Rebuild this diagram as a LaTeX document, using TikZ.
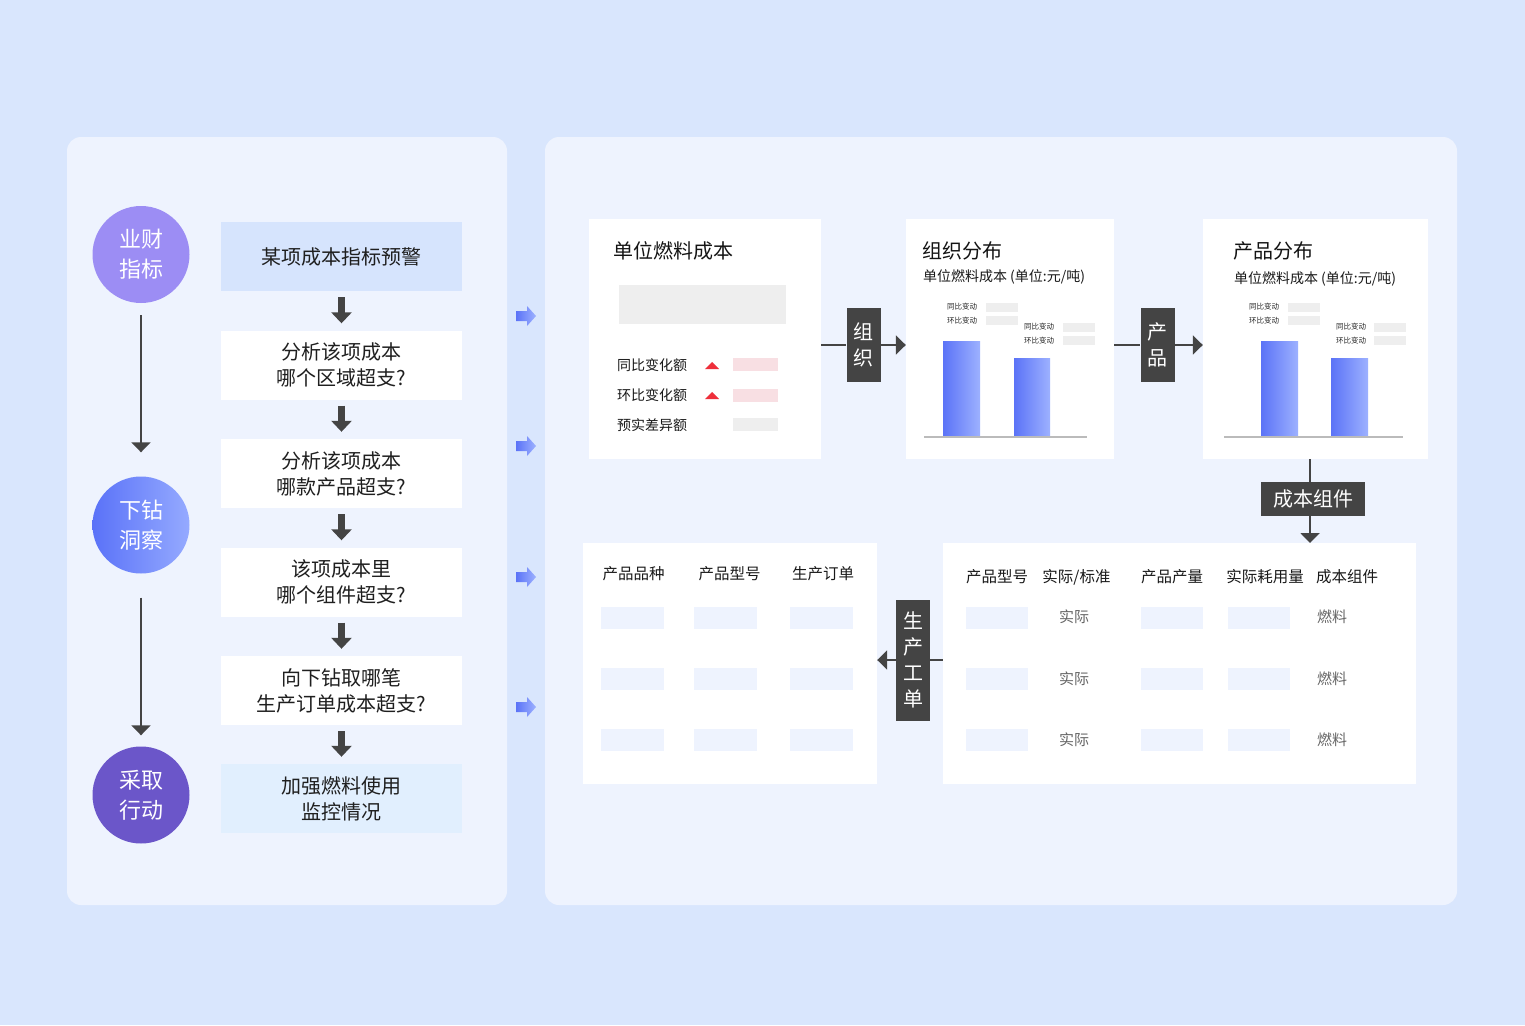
\documentclass[tikz,border=0pt]{standalone}
\usepackage{fontspec}
\setmainfont{Noto Sans CJK SC}
\usepackage{tikz}
\usetikzlibrary{arrows.meta}
\definecolor{bgblue}{HTML}{D9E6FD}
\definecolor{panelblue}{HTML}{EEF3FE}
\definecolor{warnfill}{HTML}{D6E4FD}
\definecolor{actfill}{HTML}{E1EFFE}
\definecolor{metricpurple}{HTML}{9C8DF4}
\definecolor{actpurple}{HTML}{6B56C9}
\definecolor{drilll}{HTML}{5A72F8}
\definecolor{drillr}{HTML}{95AAFF}
\definecolor{barl}{HTML}{5B73F7}
\definecolor{barr}{HTML}{9DB1FF}
\definecolor{darkgray}{HTML}{444444}
\definecolor{blankgray}{HTML}{EEEEEE}
\definecolor{pinkbar}{HTML}{F8DFE3}
\definecolor{upred}{HTML}{EE2F3B}
\definecolor{axisgray}{HTML}{BBBBBB}
\definecolor{rowgray}{HTML}{666666}
\tikzset{phase/.style={circle, minimum size=97pt, inner sep=0pt, align=center, text=white, font=\fontsize{22}{30}\selectfont},
  stepbox/.style={rectangle, fill=white, minimum width=241pt, minimum height=69pt, inner sep=0pt, align=center, text=black!88, font=\fontsize{20}{26}\selectfont},
  card/.style={rectangle, fill=white, minimum height=240pt, inner sep=0pt},
  cardtitle/.style={anchor=west, inner sep=0pt, text=black!92, font=\fontsize{20}{24}\selectfont},
  subtitle/.style={anchor=west, inner sep=0pt, text=black!90, font=\fontsize{14}{16}\selectfont},
  rowlabel/.style={anchor=west, inner sep=0pt, text=black!90, font=\fontsize{14}{15}\selectfont},
  minilabel/.style={anchor=west, inner sep=0pt, text=black!85, font=\fontsize{7.5}{8}\selectfont},
  colhead/.style={inner sep=0pt, text=black!90, font=\fontsize{15.5}{17}\selectfont},
  rowtext/.style={inner sep=0pt, text=rowgray, font=\fontsize{15}{17}\selectfont},
  tag/.style={rectangle, fill=darkgray, inner sep=0pt, align=center, text=white, font=\fontsize{20}{26}\selectfont},
  link/.style={draw=darkgray, line width=2pt},
  stagearrow/.style={draw=darkgray, line width=2pt, -{Triangle[width=19pt,length=10pt]}},
  bigarrow/.style={draw=darkgray, line width=7pt, shorten <=6pt, shorten >=7pt, -{Triangle[width=20pt,length=11pt]}}}

\begin{document}
\begin{tikzpicture}[x=1pt, y=-1pt]
  % backdrop and the two panels
  \fill [bgblue] (0,0) rectangle (1525,1025);
  \useasboundingbox (0,0) rectangle (1525,1025);
  \fill [panelblue, rounded corners=14pt] (67,137) rectangle (507,905);
  \fill [panelblue, rounded corners=14pt] (545,137) rectangle (1457,905);

  % stages on the left
  \node [phase, fill=metricpurple] (metric) at (141,254.5) {业财\\指标};
  \node [phase, left color=drilll, right color=drillr] (drill) at (141,525) {下钻\\洞察};
  \node [phase, fill=actpurple] (action) at (141,795) {采取\\行动};
  \draw [stagearrow, shorten <=12pt, shorten >=24pt] (metric) -- (drill);
  \draw [stagearrow, shorten <=24pt, shorten >=11pt] (drill) -- (action);

  % question chain
  \node [stepbox, fill=warnfill] (warn) at (341.5,256.5) {某项成本指标预警};
  \node [stepbox] (area) at (341.5,365) {分析该项成本\\哪个区域超支?};
  \node [stepbox] (prod) at (341.5,473.5) {分析该项成本\\哪款产品超支?};
  \node [stepbox] (part) at (341.5,582) {该项成本里\\哪个组件超支?};
  \node [stepbox] (order) at (341.5,690.5) {向下钻取哪笔\\生产订单成本超支?};
  \node [stepbox, fill=actfill] (act) at (341.5,798.5) {加强燃料使用\\监控情况};
  \foreach \a/\b in {warn/area, area/prod, prod/part, part/order, order/act}
    \draw [bigarrow] (\a) -- (\b);

  % blue pointers between the panels
  \foreach \y in {316,446,577,707}
    \shade [left color=barl, right color=barr] (516,{\y-5}) -- (527,{\y-5}) -- (527,{\y-10}) -- (536,\y)
      -- (527,{\y+10}) -- (527,{\y+5}) -- (516,{\y+5}) -- cycle;

  % cards
  \node [card, minimum width=232pt] (unitcost) at (705,339) {};
  \node [card, minimum width=208pt] (orgdist) at (1010,339) {};
  \node [card, minimum width=225pt] (proddist) at (1315.5,339) {};
  \node [card, minimum width=294pt, minimum height=241pt] (orders) at (730,663.5) {};
  \node [card, minimum width=473pt, minimum height=241pt] (components) at (1179.5,663.5) {};

  % unit fuel cost
  \node [cardtitle] (unitcosttitle) at (613,251) {单位燃料成本};
  \fill [blankgray] (619,285) rectangle (786,324);
  \node [rowlabel] (yoy) at (617,365) {同比变化额};
  \node [rowlabel] (mom) at (617,395) {环比变化额};
  \node [rowlabel] (plan) at (617,425) {预实差异额};
  \fill [upred] (705,369) -- (719,369) -- (712,362) -- cycle;
  \fill [upred] (705,399) -- (719,399) -- (712,392) -- cycle;
  \fill [pinkbar] (733,358) rectangle (778,371);
  \fill [pinkbar] (733,389) rectangle (778,402);
  \fill [blankgray] (733,418) rectangle (778,431);

  % by organisation
  \node [cardtitle] (orgtitle) at (922,251) {组织分布};
  \node [subtitle] (orgsub) at (923,277) {单位燃料成本\kern3pt(单位:元/吨)};
  \node [minilabel] (orgyoy1) at (947,307) {同比变动};
  \node [minilabel] (orgmom1) at (947,321) {环比变动};
  \node [minilabel] (orgyoy2) at (1024,327) {同比变动};
  \node [minilabel] (orgmom2) at (1024,341) {环比变动};
  \fill [blankgray] (986,303) rectangle (1018,312);
  \fill [blankgray] (986,316) rectangle (1018,325);
  \fill [blankgray] (1063,323) rectangle (1095,332);
  \fill [blankgray] (1063,336) rectangle (1095,345);
  \shade [left color=barl, right color=barr] (943,341) rectangle (980,437);
  \shade [left color=barl, right color=barr] (1014,358) rectangle (1050,437);
  \draw [axisgray, line width=1.5pt] (924,437) -- (1087,437);

  % by product
  \node [cardtitle] (prodtitle) at (1233,251) {产品分布};
  \node [subtitle] (prodsub) at (1234,279) {单位燃料成本\kern3pt(单位:元/吨)};
  \node [minilabel] (prodyoy1) at (1249,307) {同比变动};
  \node [minilabel] (prodmom1) at (1249,321) {环比变动};
  \node [minilabel] (prodyoy2) at (1336,327) {同比变动};
  \node [minilabel] (prodmom2) at (1336,341) {环比变动};
  \fill [blankgray] (1288,303) rectangle (1320,312);
  \fill [blankgray] (1288,316) rectangle (1320,325);
  \fill [blankgray] (1374,323) rectangle (1406,332);
  \fill [blankgray] (1374,336) rectangle (1406,345);
  \shade [left color=barl, right color=barr] (1261,341) rectangle (1298,437);
  \shade [left color=barl, right color=barr] (1331,358) rectangle (1368,437);
  \draw [axisgray, line width=1.5pt] (1224,437) -- (1403,437);

  % production orders table
  \node [colhead] (kind) at (633.5,574) {产品品种};
  \node [colhead] (model) at (729.5,574) {产品型号};
  \node [colhead] (ordno) at (823,574) {生产订单};
  \foreach \x in {601,694,790}
    \foreach \y in {607,668,729}
      \fill [panelblue] (\x,\y) rectangle ++(63,22);

  % cost component table
  \node [colhead] (cmodel) at (997,577) {产品型号};
  \node [colhead] (cstd) at (1076.5,577) {实际/标准};
  \node [colhead] (cout) at (1172,577) {产品产量};
  \node [colhead] (cuse) at (1265,577) {实际耗用量};
  \node [colhead] (ccomp) at (1347,577) {成本组件};
  \foreach \x in {966,1141,1228}
    \foreach \y in {607,668,729}
      \fill [panelblue] (\x,\y) rectangle ++(62,22);
  \foreach \y in {617,679,740} {
    \node [rowtext] (actual\y) at (1074,\y) {实际};
    \node [rowtext] (fuel\y) at (1332,\y) {燃料};
  }

  % drill links
  \node [tag, minimum width=34pt, minimum height=74pt] (orgtag) at (863.5,345) {组\\织};
  \draw [link] (unitcost.east |- orgtag) -- (orgtag.west);
  \draw [link, -{Triangle[width=19pt,length=10pt]}] (orgtag.east) -- (orgdist.west |- orgtag);
  \node [tag, minimum width=34pt, minimum height=74pt] (prodtag) at (1157.5,345) {产\\品};
  \draw [link] (orgdist.east |- prodtag) -- (prodtag.west);
  \draw [link, -{Triangle[width=19pt,length=10pt]}] (prodtag.east) -- (proddist.west |- prodtag);
  \node [tag, minimum width=104pt, minimum height=34pt] (comptag) at (1313,499) {成本组件};
  \draw [link] (comptag.north -| 1310,0) -- (1310,459);
  \draw [link, -{Triangle[width=19pt,length=10pt]}] (comptag.south -| 1310,0) -- (1310,543);
  \node [tag, minimum width=34pt, minimum height=121pt] (wotag) at (913,660) {生\\产\\工\\单};
  \draw [link] (components.west |- wotag) -- (wotag.east);
  \draw [link, -{Triangle[width=19pt,length=10pt]}] (wotag.west) -- (orders.east |- wotag);
\end{tikzpicture}
\end{document}
